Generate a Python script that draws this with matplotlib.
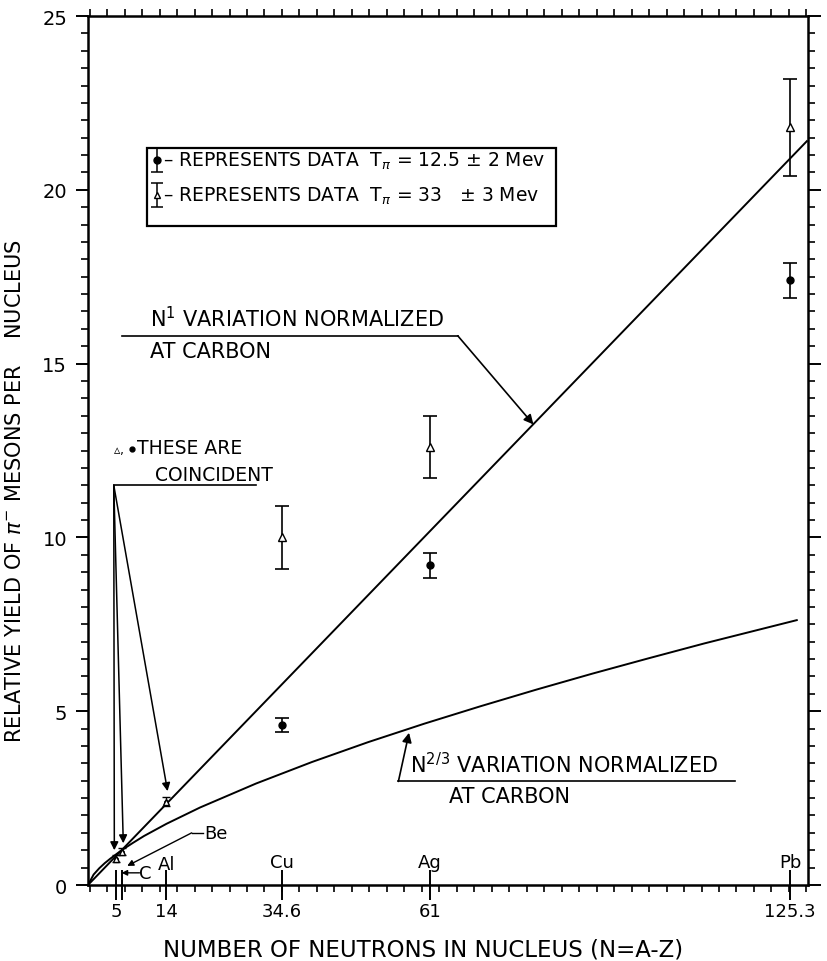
import matplotlib
matplotlib.use("Agg")
import matplotlib.pyplot as plt
from matplotlib.patches import Rectangle
import numpy as np

plt.rcParams.update({
    "font.family": "DejaVu Sans",
    "mathtext.fontset": "dejavusans",
    "font.size": 12,
})

# measured points, T = 12.5 MeV (filled circles)
n_low = [34.6, 61, 125.3]
y_low = [4.6, 9.2, 17.4]
err_low = [0.2, 0.36, 0.5]

# measured points, T = 33 MeV (open triangles)
n_high = [34.6, 61, 125.3]
y_high = [10.0, 12.6, 21.8]
err_high = [0.9, 0.9, 1.4]

# light nuclei where both data sets coincide (Be, C, Al)
n_coinc = [5, 6, 14]
y_coinc = [0.75, 0.96, 2.4]
err_coinc = [0.1, 0.1, 0.12]

# N^1 curve normalized at carbon
n_lin = [0, 128.3]
y_lin = [0, 21.4]

# N^(2/3) curve normalized at carbon
n_23 = [0, 1, 2, 3, 4, 6, 8, 10, 14, 20, 30, 40, 50, 60, 70, 80, 90, 100, 110, 126.5]
y_23 = [0, 0.30, 0.48, 0.63, 0.76, 1.0, 1.21, 1.41, 1.76, 2.23, 2.92, 3.54, 4.11,
        4.64, 5.14, 5.62, 6.08, 6.52, 6.95, 7.62]

# element tick positions on the N axis
elem_ticks = [5, 6, 14, 34.6, 61, 125.3]
elem_labels = ["5", "", "14", "34.6", "61", "125.3"]

fig = plt.figure(figsize=(8.27, 9.62), dpi=100)
ax = fig.add_axes([0.1064, 0.079, 0.8706, 0.9033])
ax.set_xlim(0, 128.5)
ax.set_ylim(0, 25)

lw = 1.4
ax.plot(n_lin, y_lin, color="black", linewidth=lw)
ax.plot(n_23, y_23, color="black", linewidth=lw)

ax.errorbar(n_low, y_low, yerr=err_low, fmt="o", color="black", markersize=5,
            capsize=5, elinewidth=1.2, capthick=1.2)
ax.errorbar(n_high, y_high, yerr=err_high, fmt="^", color="black", mfc="white",
            markersize=6, capsize=5, elinewidth=1.2, capthick=1.2)
ax.errorbar(n_coinc, y_coinc, yerr=err_coinc, fmt="^", color="black", mfc="white",
            markersize=5, capsize=3, elinewidth=1.0, capthick=1.0)
ax.plot(n_coinc, y_coinc, "o", color="black", markersize=2.5)

# axes ticks
for s in ax.spines.values():
    s.set_linewidth(1.8)
ax.set_yticks(np.arange(0, 26, 5))
ax.set_yticks(np.arange(0, 25.01, 0.5), minor=True)
ax.set_xticks(elem_ticks)
ax.set_xticklabels(elem_labels)
ax.set_xticks(np.arange(0.3, 128.5, 3.12), minor=True)
ax.tick_params(axis="y", which="major", direction="out", length=9, width=1.4,
               labelsize=14, pad=6, right=True)
ax.tick_params(axis="y", which="minor", direction="out", length=5, width=1.2, right=True)
ax.tick_params(axis="x", which="major", direction="inout", length=22, width=1.4,
               labelsize=13, pad=1)
ax.tick_params(axis="x", which="minor", direction="out", length=5, width=1.2, top=True)

ax.set_xlabel("NUMBER OF NEUTRONS IN NUCLEUS (N=A-Z)", fontsize=16.5)
ax.xaxis.set_label_coords(0.465, -0.06)
ax.set_ylabel("RELATIVE YIELD OF $\\pi^{-}$ MESONS PER    NUCLEUS", fontsize=15)
ax.yaxis.set_label_coords(-0.088, 0.455)

# element names above the axis
for n, name in zip([34.6, 61, 125.3], ["Cu", "Ag", "Pb"]):
    ax.text(n, 0.4, name, ha="center", va="bottom", fontsize=13)
ax.text(14, 0.35, "Al", ha="center", va="bottom", fontsize=13)
ax.text(10.3, 0.1, "C", ha="center", va="bottom", fontsize=13)
ax.annotate("", xy=(6.0, 0.35), xytext=(9.2, 0.35),
            arrowprops=dict(arrowstyle="-|>", color="black", lw=1.0, mutation_scale=8,
                            shrinkA=0, shrinkB=0))
ax.text(20.8, 1.5, "Be", ha="left", va="center", fontsize=13)
ax.plot([18.5, 20.6], [1.5, 1.5], color="black", lw=1.0)
ax.annotate("", xy=(7.0, 0.55), xytext=(18.5, 1.5),
            arrowprops=dict(arrowstyle="-|>", color="black", lw=1.0, mutation_scale=9,
                            shrinkA=0, shrinkB=0))

# legend box
ax.add_patch(Rectangle((10.5, 18.95), 73.0, 2.25, fill=False, lw=1.6, zorder=3))
ax.errorbar([12.3], [20.85], yerr=[0.35], fmt="o", color="black", markersize=5,
            capsize=4, elinewidth=1.1, capthick=1.1)
ax.errorbar([12.3], [19.85], yerr=[0.35], fmt="^", color="black", mfc="white",
            markersize=5, capsize=4, elinewidth=1.1, capthick=1.1)
ax.text(13.3, 20.85, "– REPRESENTS DATA  T$_{\\pi}$ = 12.5 ± 2 Mev", va="center",
        fontsize=13.5)
ax.text(13.3, 19.85, "– REPRESENTS DATA  T$_{\\pi}$ = 33   ± 3 Mev", va="center",
        fontsize=13.5)

# N^1 label
ax.text(11.0, 15.95, "N$^{1}$ VARIATION NORMALIZED", fontsize=15, va="bottom")
ax.text(11.0, 15.65, "AT CARBON", fontsize=15, va="top")
ax.plot([6.0, 66.0], [15.8, 15.8], color="black", lw=1.2)
ax.annotate("", xy=(79.5, 13.25), xytext=(66.0, 15.8),
            arrowprops=dict(arrowstyle="-|>", color="black", lw=1.2, mutation_scale=14,
                            shrinkA=0, shrinkB=0))

# coincident label
ax.text(4.4, 12.35, "$\\vartriangle$,", fontsize=9, va="bottom")
ax.plot([7.8], [12.55], "o", color="black", markersize=3.5)
ax.text(8.8, 12.3, "THESE ARE", fontsize=13.5, va="bottom")
ax.text(12.0, 11.55, "COINCIDENT", fontsize=13.5, va="bottom")
ax.plot([4.6, 30.0], [11.5, 11.5], color="black", lw=1.2)
for tip in [(4.7, 1.0), (6.3, 1.2), (14.2, 2.7)]:
    ax.annotate("", xy=tip, xytext=(4.6, 11.5),
                arrowprops=dict(arrowstyle="-|>", color="black", lw=1.1,
                                mutation_scale=12, shrinkA=0, shrinkB=0))

# N^2/3 label
ax.text(57.5, 3.12, "N$^{2/3}$ VARIATION NORMALIZED", fontsize=15, va="bottom")
ax.text(64.5, 2.85, "AT CARBON", fontsize=15, va="top")
ax.plot([55.4, 115.5], [2.98, 2.98], color="black", lw=1.2)
ax.annotate("", xy=(57.3, 4.38), xytext=(55.4, 2.98),
            arrowprops=dict(arrowstyle="-|>", color="black", lw=1.2, mutation_scale=14,
                            shrinkA=0, shrinkB=0))

fig.savefig("out.png", dpi=100)
